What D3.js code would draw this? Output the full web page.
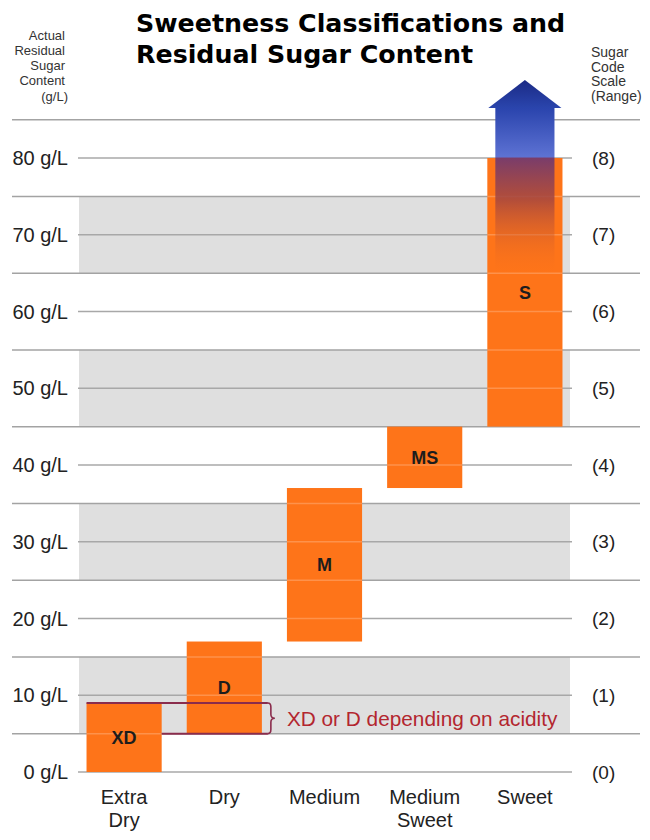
<!DOCTYPE html>
<html><head><meta charset="utf-8">
<script src="https://cdn.jsdelivr.net/npm/d3@7"></script>
<style>body{margin:0;background:#fff}svg{display:block}</style>
</head><body>
<script>
const categories = ["Extra Dry", "Dry", "Medium", "Medium Sweet", "Sweet"];
const codes = ["XD", "D", "M", "MS", "S"];
const lowValues = [0, 5, 17, 37, 45];
const highValues = [9, 17, 37, 45, 80];
const yTicks = [0, 10, 20, 30, 40, 50, 60, 70, 80];
const yTickLabels = ["0 g/L", "10 g/L", "20 g/L", "30 g/L", "40 g/L", "50 g/L", "60 g/L", "70 g/L", "80 g/L"];
const codeLabels = ["(0)", "(1)", "(2)", "(3)", "(4)", "(5)", "(6)", "(7)", "(8)"];
const halfLines = [5, 15, 25, 35, 45, 55, 65, 75, 85];
const bandRanges = [[5, 15], [25, 35], [45, 55], [65, 75]];
const acidityRange = [5, 9];
const acidityNote = "XD or D depending on acidity";
const titleLines = ["Sweetness Classifications and", "Residual Sugar Content"];
const leftHeader = ["Actual", "Residual", "Sugar", "Content", "(g/L)"];
const rightHeader = ["Sugar", "Code", "Scale", "(Range)"];

const W = 650, H = 840;
const svg = d3.select("body").append("svg").attr("width", W).attr("height", H);
const font = "'Liberation Sans', Arial, sans-serif";

const x = d3.scaleBand().domain(categories).range([74, 575]).paddingInner(0.25).paddingOuter(0.125);
const y = d3.scaleLinear().domain([0, 80]).range([772, 158]);

const defs = svg.append("defs");
const gHead = defs.append("linearGradient").attr("id", "ghead").attr("x1", 0).attr("y1", 0).attr("x2", 0).attr("y2", 1);
gHead.append("stop").attr("offset", 0).attr("stop-color", "#1b2a85");
gHead.append("stop").attr("offset", 1).attr("stop-color", "#2a45ad");

// gray bands
svg.append("g").selectAll("rect").data(bandRanges).join("rect")
  .attr("x", 79).attr("width", 491)
  .attr("y", d => y(d[1])).attr("height", d => y(d[0]) - y(d[1]))
  .attr("fill", "#dfdfdf");

// long half lines
svg.append("g").selectAll("line").data(halfLines).join("line")
  .attr("x1", 12).attr("x2", 640).attr("y1", d => y(d)).attr("y2", d => y(d))
  .attr("stroke", "#a3a3a3").attr("stroke-width", 1.5);
// tick lines
svg.append("g").selectAll("line").data(yTicks).join("line")
  .attr("x1", 78).attr("x2", 572).attr("y1", d => y(d)).attr("y2", d => y(d))
  .attr("stroke", "#a8a8a8").attr("stroke-width", 1.5);

// left labels
svg.append("g").selectAll("text").data(yTicks).join("text")
  .attr("x", 68).attr("y", d => y(d)).attr("dy", "0.35em").attr("text-anchor", "end")
  .attr("font-family", font).attr("font-size", 20).attr("fill", "#222")
  .text((d, i) => yTickLabels[i]);
// right labels
svg.append("g").selectAll("text").data(yTicks).join("text")
  .attr("x", 592).attr("y", d => y(d)).attr("dy", "0.35em")
  .attr("font-family", font).attr("font-size", 19).attr("fill", "#222")
  .text((d, i) => codeLabels[i]);

// bars
const bars = categories.map((c, i) => ({c, code: codes[i], lo: lowValues[i], hi: highValues[i]}));
svg.append("g").selectAll("rect").data(bars).join("rect")
  .attr("x", d => x(d.c)).attr("width", x.bandwidth())
  .attr("y", d => y(d.hi)).attr("height", d => y(d.lo) - y(d.hi))
  .attr("fill", "#fe7419");

// faint lines inside bars
const inner = [];
bars.forEach(b => {
  halfLines.concat(yTicks).forEach(v => { if (v > b.lo && v < b.hi) inner.push({b, v}); });
});
svg.append("g").selectAll("line").data(inner).join("line")
  .attr("x1", d => x(d.b.c)).attr("x2", d => x(d.b.c) + x.bandwidth())
  .attr("y1", d => y(d.v)).attr("y2", d => y(d.v))
  .attr("stroke", "#ffffff").attr("stroke-opacity", 0.22).attr("stroke-width", 1.5);

// arrow on the Sweet bar
const sx0 = x("Sweet"), sx1 = sx0 + x.bandwidth(), scx = (sx0 + sx1) / 2;
const topY = y(80);
const gShaft = defs.append("linearGradient").attr("id", "gshaft").attr("gradientUnits", "userSpaceOnUse")
  .attr("x1", 0).attr("x2", 0).attr("y1", topY - 50).attr("y2", topY + 118);
[[0, "#2a44ad", 1], [0.29, "#5d72d3", 1], [0.3, "#7a3d6a", 1], [0.55, "#a6473f", 0.85], [1, "#fe7419", 0]]
  .forEach(s => gShaft.append("stop").attr("offset", s[0]).attr("stop-color", s[1]).attr("stop-opacity", s[2]));
svg.append("rect").attr("x", sx0 + 8).attr("width", x.bandwidth() - 16)
  .attr("y", topY - 51).attr("height", 169).attr("fill", "url(#gshaft)");
svg.append("path")
  .attr("d", `M${scx},${topY - 78} L${sx1 - 1},${topY - 50} L${sx0 + 1},${topY - 50} Z`)
  .attr("fill", "url(#ghead)");

// bar code labels
svg.append("g").selectAll("text").data(bars).join("text")
  .attr("x", d => x(d.c) + x.bandwidth() / 2).attr("y", d => (y(d.lo) + y(d.hi)) / 2)
  .attr("dy", "0.36em").attr("text-anchor", "middle")
  .attr("font-family", font).attr("font-weight", "bold").attr("font-size", 18).attr("fill", "#1d1d1d")
  .text(d => d.code);

// acidity bracket
const xdx0 = x("Extra Dry"), xdx1 = xdx0 + x.bandwidth();
const dx1 = x("Dry") + x.bandwidth();
const bx = dx1 + 6, yT = y(acidityRange[1]), yB = y(acidityRange[0]), yM = (yT + yB) / 2;
const bcol = "#8a2c4c";
svg.append("line").attr("x1", xdx0).attr("x2", bx).attr("y1", yT).attr("y2", yT)
  .attr("stroke", bcol).attr("stroke-width", 2);
svg.append("line").attr("x1", xdx1).attr("x2", bx).attr("y1", yB).attr("y2", yB)
  .attr("stroke", bcol).attr("stroke-width", 2);
svg.append("path")
  .attr("d", `M${bx},${yT} q3,0 3,4 v${yM - yT - 8} q0,4 4,4 q-4,0 -4,4 v${yB - yM - 8} q0,4 -3,4`)
  .attr("fill", "none").attr("stroke", bcol).attr("stroke-width", 1.6);
svg.append("text").attr("x", bx + 19).attr("y", yM).attr("dy", "0.36em")
  .attr("font-family", font).attr("font-size", 20.8).attr("fill", "#b3262f")
  .text(acidityNote);

// category labels
const cat = svg.append("g").selectAll("text").data(categories).join("text")
  .attr("x", d => x(d) + x.bandwidth() / 2).attr("y", 804).attr("text-anchor", "middle")
  .attr("font-family", font).attr("font-size", 20).attr("fill", "#222");
cat.each(function(d) {
  const words = d.split(" ");
  d3.select(this).selectAll("tspan").data(words).join("tspan")
    .attr("x", x(d) + x.bandwidth() / 2).attr("dy", (w, i) => i ? 23 : 0).text(w => w);
});

// title
svg.append("g").selectAll("text").data(titleLines).join("text")
  .attr("x", 136).attr("y", (d, i) => 32 + i * 31)
  .attr("font-family", "'DejaVu Sans', sans-serif").attr("font-weight", "bold").attr("font-size", 25.3)
  .attr("fill", "#000").text(d => d);

// headers
const lh = [40, 55, 70, 85, 101];
svg.append("g").selectAll("text").data(leftHeader).join("text")
  .attr("x", (d, i) => i === 4 ? 68 : 65).attr("y", (d, i) => lh[i]).attr("text-anchor", "end")
  .attr("font-family", font).attr("font-size", 13).attr("fill", "#333").text(d => d);
svg.append("g").selectAll("text").data(rightHeader).join("text")
  .attr("x", 591).attr("y", (d, i) => 57 + i * 14.5)
  .attr("font-family", font).attr("font-size", 14).attr("fill", "#333").text(d => d);
</script>
</body></html>
